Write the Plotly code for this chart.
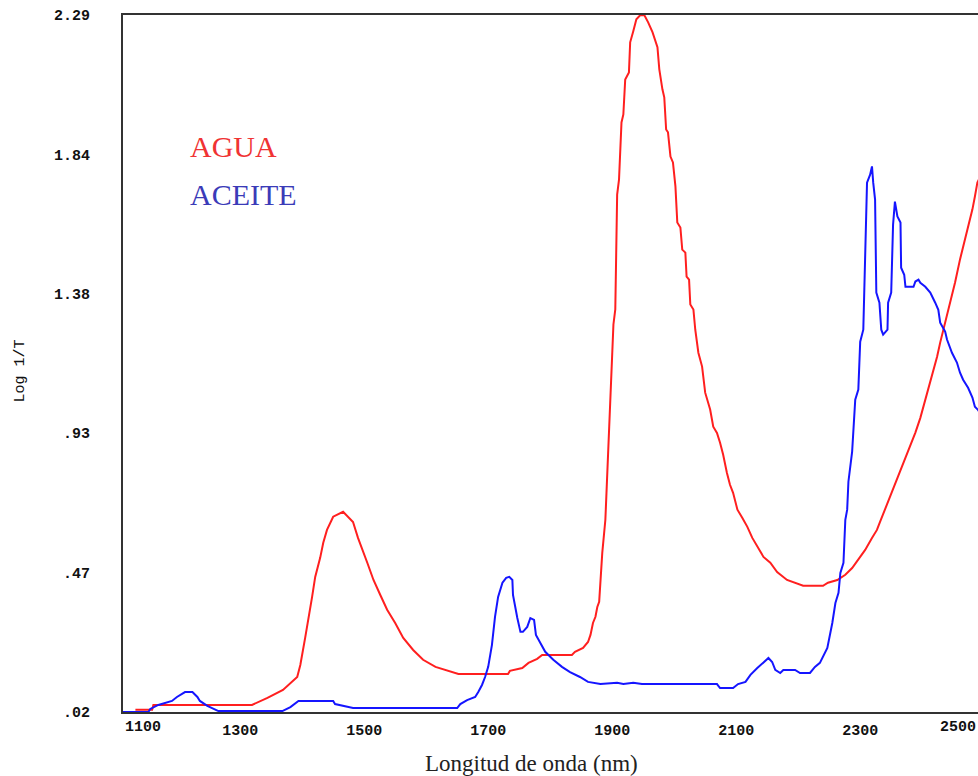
import plotly.graph_objects as go

# ---- data ----
agua_nm = [1131, 1158, 1160, 1319, 1344, 1369, 1392, 1397, 1405, 1410, 1416, 1421, 1429, 1434, 1440,
           1450, 1466, 1482, 1490, 1505, 1515, 1526, 1537, 1550, 1563, 1579, 1595, 1615, 1634, 1652,
           1732, 1735, 1755, 1765, 1779, 1787, 1835, 1840, 1853, 1861, 1865, 1869, 1873, 1876, 1879,
           1884, 1889, 1894, 1900, 1902, 1905, 1908, 1911, 1915, 1918, 1921, 1927, 1929, 1934, 1939,
           1945, 1952, 1958, 1965, 1973, 1976, 1981, 1984, 1987, 1990, 1994, 1998, 2002, 2005, 2010,
           2013, 2018, 2020, 2024, 2026, 2031, 2034, 2039, 2045, 2050, 2058, 2063, 2069, 2074, 2079,
           2085, 2090, 2095, 2102, 2110, 2118, 2126, 2134, 2144, 2155, 2166, 2182, 2195, 2208, 2240,
           2248, 2263, 2276, 2287, 2297, 2308, 2319, 2327, 2332, 2344, 2356, 2369, 2381, 2389, 2397,
           2408, 2416, 2424, 2429, 2437, 2445, 2453, 2461, 2468, 2474, 2481, 2485, 2489, 2495]
agua_val = [0.027, 0.027, 0.043, 0.043, 0.066, 0.092, 0.134, 0.173, 0.264, 0.320, 0.395, 0.460, 0.522, 0.571, 0.613,
            0.656, 0.672, 0.639, 0.587, 0.506, 0.450, 0.401, 0.353, 0.310, 0.261, 0.222, 0.190, 0.167, 0.154, 0.144,
            0.144, 0.154, 0.163, 0.180, 0.193, 0.206, 0.206, 0.216, 0.229, 0.248, 0.271, 0.310, 0.330, 0.362, 0.379,
            0.538, 0.646, 0.874, 1.200, 1.282, 1.331, 1.705, 1.754, 1.940, 1.966, 2.080, 2.103, 2.201, 2.237, 2.276,
            2.289, 2.289, 2.266, 2.234, 2.185, 2.113, 2.048, 2.022, 1.917, 1.908, 1.829, 1.810, 1.732, 1.614, 1.598,
            1.526, 1.516, 1.438, 1.428, 1.347, 1.331, 1.265, 1.190, 1.145, 1.060, 1.005, 0.949, 0.929, 0.897, 0.858,
            0.799, 0.760, 0.734, 0.679, 0.652, 0.623, 0.587, 0.558, 0.525, 0.506, 0.476, 0.450, 0.441, 0.431, 0.431,
            0.441, 0.450, 0.467, 0.489, 0.516, 0.548, 0.587, 0.613, 0.639, 0.700, 0.760, 0.823, 0.884, 0.930, 0.978,
            1.060, 1.112, 1.177, 1.223, 1.288, 1.353, 1.419, 1.494, 1.549, 1.601, 1.657, 1.699, 1.744, 1.770]

aceite_nm = [1111, 1152, 1155, 1168, 1190, 1198, 1211, 1223, 1231, 1235, 1247, 1265, 1368, 1381, 1394,
             1450, 1453, 1482, 1650, 1655, 1666, 1679, 1684, 1690, 1695, 1700, 1706, 1711, 1716, 1723,
             1729, 1734, 1739, 1740, 1747, 1752, 1756, 1763, 1768, 1774, 1777, 1784, 1792, 1805, 1819,
             1832, 1848, 1861, 1881, 1908, 1918, 1934, 1948, 2069, 2074, 2095, 2103, 2115, 2123, 2134,
             2144, 2152, 2158, 2163, 2171, 2176, 2195, 2203, 2219, 2227, 2235, 2240, 2247, 2255, 2260,
             2265, 2268, 2273, 2276, 2279, 2281, 2287, 2292, 2297, 2300, 2305, 2308, 2311, 2316, 2319,
             2321, 2324, 2326, 2331, 2334, 2337, 2344, 2345, 2350, 2352, 2353, 2356, 2360, 2365, 2366,
             2371, 2373, 2386, 2389, 2394, 2397, 2405, 2413, 2421, 2426, 2429, 2437, 2440, 2448, 2456,
             2461, 2466, 2474, 2481, 2485, 2490, 2495]
aceite_val = [0.020, 0.020, 0.030, 0.043, 0.056, 0.069, 0.085, 0.085, 0.069, 0.056, 0.040, 0.023, 0.023, 0.036, 0.056,
              0.056, 0.046, 0.033, 0.033, 0.046, 0.059, 0.069, 0.085, 0.108, 0.134, 0.167, 0.238, 0.330, 0.395, 0.441,
              0.457, 0.460, 0.450, 0.401, 0.326, 0.281, 0.281, 0.297, 0.326, 0.320, 0.271, 0.245, 0.216, 0.190, 0.167,
              0.150, 0.134, 0.118, 0.111, 0.115, 0.111, 0.115, 0.111, 0.111, 0.098, 0.098, 0.111, 0.118, 0.141, 0.163,
              0.183, 0.196, 0.183, 0.157, 0.147, 0.157, 0.157, 0.147, 0.147, 0.167, 0.180, 0.199, 0.229, 0.310, 0.375,
              0.408, 0.473, 0.506, 0.646, 0.679, 0.770, 0.868, 1.037, 1.070, 1.226, 1.265, 1.526, 1.744, 1.770, 1.797,
              1.744, 1.689, 1.386, 1.353, 1.265, 1.249, 1.265, 1.353, 1.386, 1.568, 1.607, 1.682, 1.634, 1.614, 1.467,
              1.444, 1.405, 1.405, 1.422, 1.428, 1.418, 1.405, 1.386, 1.353, 1.330, 1.288, 1.259, 1.233, 1.190, 1.158,
              1.125, 1.102, 1.076, 1.044, 1.014, 1.004, 0.988]

x_range = [1111, 2490]
y_range = [0.02, 2.29]
x_tick_vals = [1300, 1500, 1700, 1900, 2100, 2300]
x_tick_text = ["1300", "1500", "1700", "1900", "2100", "2300"]
x_end_labels = ["1100", "2500"]
y_tick_vals = [0.02, 0.474, 0.928, 1.382, 1.836, 2.29]
y_tick_text = [".02", ".47", ".93", "1.38", "1.84", "2.29"]

RED = "#ff1f1f"
BLUE = "#1515ff"
tick_font = dict(family="Liberation Mono", size=15, color="#111", weight="bold")

fig = go.Figure()
fig.add_trace(go.Scatter(x=agua_nm, y=agua_val, mode="lines", name="AGUA",
                         line=dict(color=RED, width=2)))
fig.add_trace(go.Scatter(x=aceite_nm, y=aceite_val, mode="lines", name="ACEITE",
                         line=dict(color=BLUE, width=2)))

fig.update_layout(
    width=978, height=776,
    margin=dict(l=123, r=0, t=15, b=64),
    paper_bgcolor="white", plot_bgcolor="white",
    showlegend=False,
    xaxis=dict(range=x_range, showgrid=False, zeroline=False,
               showline=True, linecolor="#333", linewidth=2, mirror=True,
               ticks="", tickvals=x_tick_vals, ticktext=x_tick_text,
               tickfont=tick_font, ticklabelstandoff=3),
    yaxis=dict(range=y_range, showgrid=False, zeroline=False,
               showline=True, linecolor="#333", linewidth=2,
               ticks="", tickvals=y_tick_vals, ticktext=y_tick_text,
               tickfont=tick_font, ticklabelstandoff=28),
)

annotations = []
# end tick labels: 1100 clamped at the axis start, 2500 clamped at the right edge
annotations.append(dict(text=x_end_labels[0], xref="paper", x=0, xanchor="left",
                        yref="paper", y=0, yanchor="top", yshift=-5,
                        showarrow=False, font=tick_font))
annotations.append(dict(text=x_end_labels[1], xref="paper", x=1, xanchor="right",
                        yref="paper", y=0, yanchor="top", yshift=-5,
                        showarrow=False, font=tick_font))
# axis titles
annotations.append(dict(text="Longitud de onda (nm)", xref="paper", x=0.478, xanchor="center",
                        yref="paper", y=0, yanchor="middle", yshift=-51, showarrow=False,
                        font=dict(family="Liberation Serif", size=23, color="#222")))
annotations.append(dict(text="Log 1/T", xref="paper", x=0, xshift=-103, xanchor="center",
                        yref="paper", y=0.5, yanchor="middle", yshift=-8, textangle=-90,
                        showarrow=False, font=dict(family="Liberation Mono", size=15, color="#111")))
# in-plot legend labels
annotations.append(dict(text="AGUA", x=1216, y=1.862, xanchor="left", yanchor="middle",
                        showarrow=False, font=dict(family="Liberation Serif", size=30, color="#f03333")))
annotations.append(dict(text="ACEITE", x=1216, y=1.705, xanchor="left", yanchor="middle",
                        showarrow=False, font=dict(family="Liberation Serif", size=30, color="#3b3bb8")))
fig.update_layout(annotations=annotations)

fig.write_html("out.html")
